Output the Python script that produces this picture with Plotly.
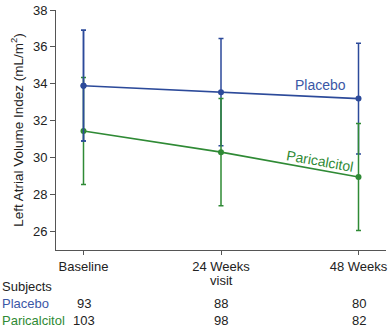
import plotly.graph_objects as go

categories = ["Baseline", "24 Weeks", "48 Weeks"]
placebo_mean = [33.9, 33.55, 33.2]
placebo_err = [3.0, 2.9, 3.0]
parical_mean = [31.45, 30.3, 28.95]
parical_err = [2.9, 2.9, 2.9]
placebo_n = [93, 88, 80]
parical_n = [103, 98, 82]
yticks = [26, 28, 30, 32, 34, 36, 38]

BLUE = "#2c4a9a"
GREEN = "#2f8a35"
FONT = "Liberation Sans, Arial, sans-serif"

xs = list(range(len(categories)))

fig = go.Figure()
fig.add_trace(go.Scatter(
    x=xs, y=placebo_mean, mode="lines+markers",
    line=dict(color=BLUE, width=1.6), marker=dict(color=BLUE, size=6),
    error_y=dict(type="data", array=placebo_err, color=BLUE, thickness=1.5, width=2.5),
    showlegend=False))
fig.add_trace(go.Scatter(
    x=xs, y=parical_mean, mode="lines+markers",
    line=dict(color=GREEN, width=1.6), marker=dict(color=GREEN, size=6),
    error_y=dict(type="data", array=parical_err, color=GREEN, thickness=1.5, width=2.5),
    showlegend=False))
# baseline placebo bar drawn on top
fig.add_trace(go.Scatter(
    x=xs[:1], y=placebo_mean[:1], mode="markers",
    marker=dict(color=BLUE, size=6),
    error_y=dict(type="data", array=placebo_err[:1], color=BLUE, thickness=1.5, width=2.5),
    showlegend=False))

LEFT = -56 / 332
ROW0, ROW1, ROW2, VISIT = -0.154, -0.221, -0.295, -0.129

def tfont(color="#222"):
    return dict(color=color, size=13, family=FONT)

ann = []
ann.append(dict(x=1.72, y=33.95, xref="x", yref="y", text="Placebo", showarrow=False,
                font=dict(color="#3b57a6", size=14, family=FONT)))
ann.append(dict(x=1.72, y=29.8, xref="x", yref="y", text="Paricalcitol", showarrow=False,
                textangle=10, font=dict(color=GREEN, size=14, family=FONT)))
ann.append(dict(x=1, y=VISIT, xref="x", yref="paper", yanchor="middle", text="visit",
                showarrow=False, font=tfont()))
ann.append(dict(x=LEFT, y=ROW0, xref="paper", yref="paper", xanchor="left", yanchor="middle",
                text="Subjects", showarrow=False, font=tfont()))
ann.append(dict(x=LEFT, y=ROW1, xref="paper", yref="paper", xanchor="left", yanchor="middle",
                text="Placebo", showarrow=False, font=tfont("#3b57a6")))
ann.append(dict(x=LEFT, y=ROW2, xref="paper", yref="paper", xanchor="left", yanchor="middle",
                text="Paricalcitol", showarrow=False, font=tfont(GREEN)))
for i, n in enumerate(placebo_n):
    ann.append(dict(x=xs[i], y=ROW1, xref="x", yref="paper", yanchor="middle", text=str(n),
                    showarrow=False, font=tfont()))
for i, n in enumerate(parical_n):
    ann.append(dict(x=xs[i], y=ROW2, xref="x", yref="paper", yanchor="middle", text=str(n),
                    showarrow=False, font=tfont()))

fig.update_layout(
    width=390, height=330,
    margin=dict(l=56, r=2, t=10, b=80),
    paper_bgcolor="white", plot_bgcolor="white",
    font=dict(family=FONT, size=13, color="#222"),
    annotations=ann,
    xaxis=dict(range=[-0.2, 2.2], tickvals=xs, ticktext=categories,
               showgrid=False, zeroline=False, showline=True, linecolor="#555", linewidth=1,
               ticks="outside", ticklen=4, tickcolor="#555",
               tickfont=dict(size=13, color="#222")),
    yaxis=dict(range=[25, 38], tickvals=yticks, showgrid=False, zeroline=False,
               showline=True, linecolor="#555", linewidth=1,
               ticks="outside", ticklen=5, tickcolor="#555",
               tickfont=dict(size=13, color="#222"),
               title=dict(text="Left Atrial Volume Indez (mL/m<sup>2</sup>)",
                          font=dict(size=13.5, color="#222"), standoff=6)),
)

fig.write_html("out.html")
